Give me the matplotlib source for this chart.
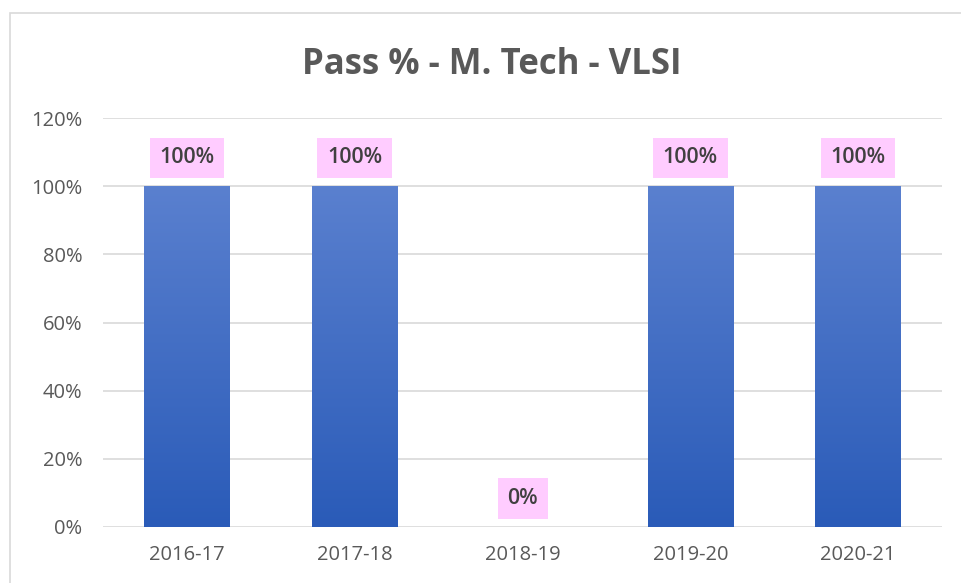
import matplotlib
matplotlib.use('Agg')
import matplotlib.pyplot as plt
import matplotlib.patches as mpatches
from matplotlib.colors import LinearSegmentedColormap
from matplotlib.ticker import FuncFormatter
import numpy as np

years = ['2016-17', '2017-18', '2018-19', '2019-20', '2020-21']
pass_pct = [100, 100, 0, 100, 100]

W, H = 962, 583
fig = plt.figure(figsize=(W / 100, H / 100), dpi=100)
fig.patch.set_facecolor('white')

# chart outer border (cropped on the right and bottom in the reference)
fig.patches.append(mpatches.Rectangle((10 / W, -0.05), 1.1, 1.05 - 13 / H,
                                      transform=fig.transFigure, fill=False,
                                      edgecolor='#d9d9d9', linewidth=1.2))

ax = fig.add_axes([103 / W, 1 - 527 / H, (942 - 103) / W, (527 - 118) / H])
x = np.arange(len(years))

grad = LinearSegmentedColormap.from_list('g', ['#2a5bb8', '#5a80cf'])
bar_w = 0.51
bars = ax.bar(x, pass_pct, width=bar_w, color='none', edgecolor='none', zorder=2)
for b in bars:
    if b.get_height() <= 0:
        continue
    x0, y0 = b.get_x(), b.get_y()
    im = ax.imshow(np.linspace(0, 1, 256).reshape(-1, 1), cmap=grad, aspect='auto',
                   origin='lower', extent=[x0, x0 + b.get_width(), y0, y0 + b.get_height()],
                   zorder=2)
    im.set_clip_path(b)

ax.set_xlim(-0.5, len(years) - 0.5)
ax.set_ylim(0, 120)

for xi, v in zip(x, pass_pct):
    ax.annotate(f'{v}%', (xi, v), xytext=(0, 20.5), textcoords='offset points',
                ha='center', va='center', fontsize=15.5, fontweight='semibold',
                color='#404040', family='Open Sans',
                bbox=dict(boxstyle='square,pad=0.45', facecolor='#ffccff', edgecolor='none'))

ax.set_yticks(np.arange(0, 121, 20))
ax.yaxis.set_major_formatter(FuncFormatter(lambda v, p: f'{int(v)}%'))
ax.set_xticks(x)
ax.set_xticklabels(years)
ax.tick_params(axis='both', length=0, labelsize=14.5, labelcolor='#595959')
ax.tick_params(axis='y', pad=15)
ax.tick_params(axis='x', pad=13)
for lab in ax.get_xticklabels() + ax.get_yticklabels():
    lab.set_family('Open Sans')

ax.grid(axis='y', color='#d9d9d9', linewidth=1.2, zorder=0)
ax.set_axisbelow(True)
for s in ax.spines.values():
    s.set_visible(False)

fig.text(492 / W, 1 - 65 / H, 'Pass % - M. Tech - VLSI', ha='center', va='center',
         fontsize=25, fontweight='bold', color='#595959', family='Open Sans')

fig.savefig('out.png', dpi=100)
